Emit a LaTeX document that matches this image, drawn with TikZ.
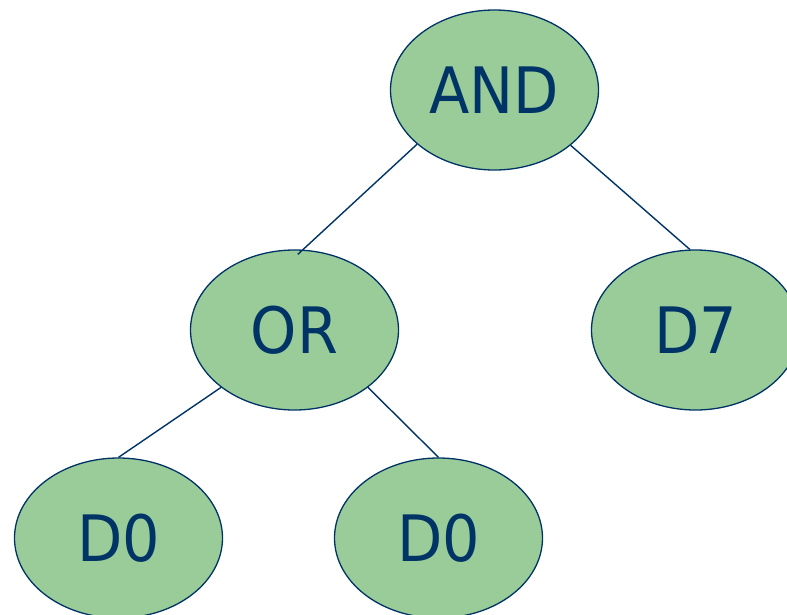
\documentclass[tikz,border=0pt]{standalone}
\usepackage{fontspec}
\newfontfamily\nodefont{DejaVu Sans}[FakeStretch=0.92]
\usetikzlibrary{shapes.geometric}
\definecolor{leafgreen}{HTML}{99CC99}
\definecolor{navy}{HTML}{003366}
\begin{document}
\begin{tikzpicture}[x=1pt,y=-1pt,
  gate/.style={ellipse, draw=navy, line width=1.3pt, fill=leafgreen,
    minimum width=208pt, minimum height=160pt, inner sep=0pt,
    text=navy, font=\nodefont\fontsize{64}{64}\selectfont},
  edge/.style={draw=navy, line width=1.4pt}]
  \useasboundingbox (0,0) rectangle (787,614);
  % tree nodes
  \node[gate] (and) at (494.5,90) {AND};
  \node[gate] (or)  at (294.5,330) {OR};
  \node[gate] (d7)  at (695.5,330) {D7};
  \node[gate] (d0a) at (118.5,538) {D0};
  \node[gate] (d0b) at (438.5,538) {D0};
  % branches
  \draw[edge, shorten >=-7pt] (and.215) -- (or.84);
  \draw[edge] (and.324) -- (d7.94);
  \draw[edge] (or.218) -- (d0a.90);
  \draw[edge] (or.322) -- (d0b.90);
\end{tikzpicture}
\end{document}
